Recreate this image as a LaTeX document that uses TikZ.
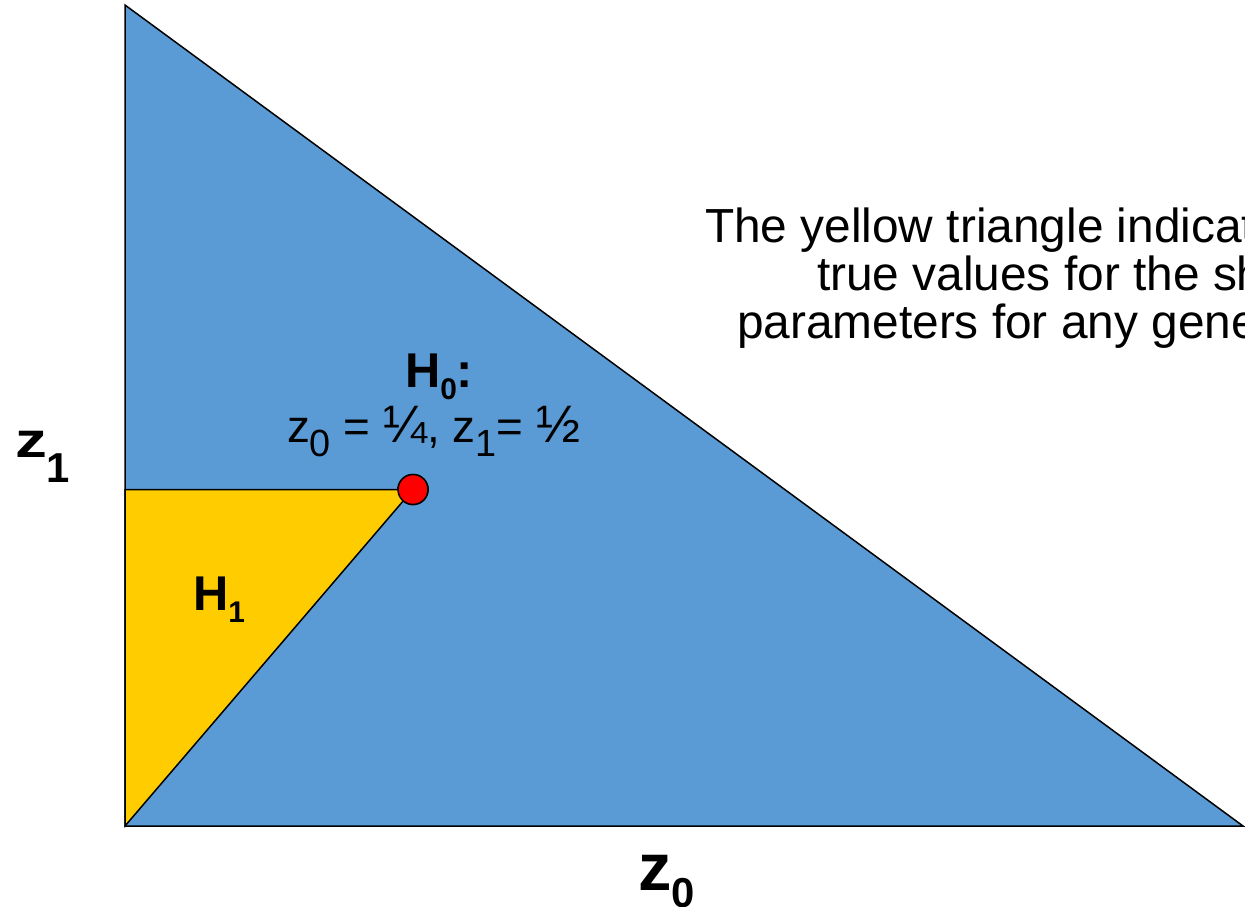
\documentclass[tikz,border=0pt]{standalone}
\usepackage{fontspec}
\setmainfont{Liberation Sans}
\usepackage{graphicx}
\definecolor{regionblue}{HTML}{5B9BD5}
\definecolor{regionyellow}{HTML}{FFCC00}
% lowered subscript: #1 drop, #2 size, #3 text
\newcommand{\lowsub}[3]{\raisebox{-#1bp}{\fontsize{#2}{#2}\selectfont #3}}
\newcommand{\bigfrac}[1]{\scalebox{1.15}{#1}}

\begin{document}
\begin{tikzpicture}[x=1bp, y=-1bp,
    lbl/.style={anchor=base west, inner sep=0pt, outer sep=0pt},
    edge/.style={draw=black, line width=1.5bp, line join=miter},
    truept/.style={circle, fill=red, draw=black, line width=1.5bp, minimum size=30bp, inner sep=0pt}]
  \useasboundingbox (0,0) rectangle (1245,907);

  \coordinate (apex) at (125,5);
  \coordinate (origin) at (125,826);
  \coordinate (corner) at (1243,826);
  \coordinate (side) at (125,489.5);

  % the whole simplex
  \fill[regionblue] (apex) -- (origin) -- (corner) -- cycle;
  \draw[edge] (apex) -- (origin) -- (corner) -- cycle;

  \node[truept] (hzero) at (413,489.5) {};

  % H1 region
  \fill[regionyellow] (origin) -- (side) -- (hzero.center) -- cycle;
  \draw[edge] (origin) -- (side) -- (hzero.center) -- cycle;
  \node[truept] at (hzero) {};

  \node[lbl] (hone) at (193,610) {\fontsize{49}{49}\selectfont\bfseries H\lowsub{12}{30}{1}};
  \node[lbl] (hzerolbl) at (405,387) {\fontsize{49}{49}\selectfont\bfseries H\lowsub{12}{30}{0}:};
  \node[lbl] (hzeroval) at (287,442) {\fontsize{46}{46}\selectfont z\lowsub{14}{38}{0} = \bigfrac{¼}, z\lowsub{14}{38}{1}= \bigfrac{½}};

  \node[lbl] (zone) at (15,457) {\fontsize{64}{64}\selectfont\bfseries\scalebox{1}[0.78]{z}\lowsub{25}{42}{1}};
  \node[lbl] (zzero) at (638,890) {\fontsize{67}{67}\selectfont\bfseries z\lowsub{17}{42}{0}};

  \node[lbl] (noteA) at (705,242) {\fontsize{48}{48}\selectfont The yellow triangle indicates};
  \node[lbl] (noteB) at (817,290) {\fontsize{48}{48}\selectfont true values for the shape};
  \node[lbl] (noteC) at (737,338) {\fontsize{48}{48}\selectfont parameters for any gene};
\end{tikzpicture}
\end{document}
